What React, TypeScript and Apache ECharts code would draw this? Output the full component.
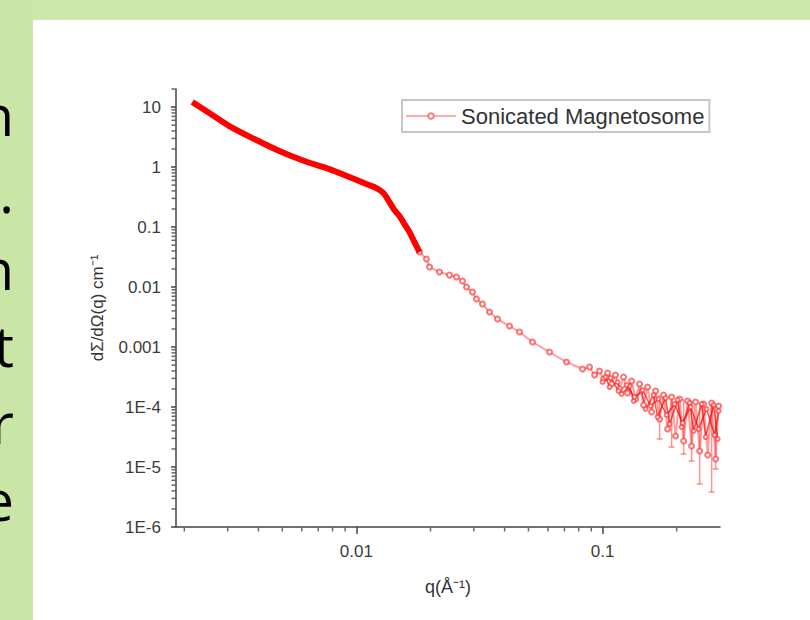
import React, { useEffect, useRef } from "react";
import * as echarts from "echarts";

// ---- data ----
const seriesName = "Sonicated Magnetosome";

// dense low-q part
const qDense = [0.002154, 0.002526, 0.003046, 0.003849, 0.004864, 0.006145, 0.007767, 0.009815, 0.01098, 0.01206, 0.01288, 0.01362, 0.01427, 0.01496, 0.01567, 0.01642, 0.01721, 0.01804];
const iDense = [12.11, 7.94, 4.82, 2.93, 1.85, 1.26, 0.926, 0.631, 0.521, 0.447, 0.369, 0.261, 0.192, 0.153, 0.112, 0.0826, 0.0562, 0.0383];

// sparse high-q part (noisy)
const qSparse = [0.01804, 0.01926, 0.01981, 0.02175, 0.02388, 0.0255, 0.02698, 0.02801, 0.02962, 0.03074, 0.03252, 0.03473, 0.03743, 0.04188, 0.04598, 0.05193, 0.0609, 0.0714, 0.08291, 0.08855, 0.09279, 0.09723, 0.101, 0.1048, 0.1088, 0.1129, 0.1173, 0.1217, 0.1264, 0.1312, 0.1362, 0.1414, 0.1468, 0.1524, 0.1582, 0.1643, 0.1705, 0.177, 0.1838, 0.1908, 0.1981, 0.2056, 0.2135, 0.2216, 0.23, 0.2388, 0.248, 0.2574, 0.2673, 0.2774, 0.288, 0.2962];
const iSparse = [0.0383, 0.0293, 0.0215, 0.0178, 0.0158, 0.0147, 0.0126, 0.01, 0.00826, 0.00631, 0.00521, 0.00383, 0.00293, 0.00224, 0.00178, 0.00121, 8.26e-4, 5.62e-4, 4.3e-4, 4.64e-4, 3.41e-4, 3.98e-4, 2.93e-4, 3.69e-4, 2.42e-4, 3.41e-4, 2.0e-4, 3.16e-4, 1.71e-4, 2.71e-4, 1.36e-4, 2.42e-4, 1.08e-4, 2.15e-4, 8.26e-5, 1.85e-4, 6.31e-5, 1.58e-4, 4.3e-5, 1.47e-4, 3.29e-5, 1.36e-4, 2.71e-5, 1.26e-4, 2.24e-5, 1.21e-4, 1.85e-5, 1.12e-4, 1.58e-5, 1.17e-4, 1.36e-5, 1.04e-4];

// second and third overlapping traces at high q
const qSparse2 = [0.1028, 0.1068, 0.1151, 0.1195, 0.1288, 0.1337, 0.144, 0.1496, 0.1612, 0.1674, 0.1803, 0.1873, 0.2018, 0.2095, 0.2258, 0.2344, 0.2526, 0.2623, 0.2826, 0.2934];
const iSparse2 = [3.16e-4, 2.15e-4, 2.61e-4, 1.65e-4, 2.24e-4, 1.26e-4, 1.85e-4, 9.26e-5, 1.58e-4, 6.81e-5, 1.41e-4, 5.21e-5, 1.31e-4, 4.64e-5, 1.17e-4, 3.98e-5, 1.12e-4, 3.16e-5, 1.08e-4, 2.93e-5];
const qSparse3 = [0.1, 0.1078, 0.1161, 0.1252, 0.1349, 0.1454, 0.1567, 0.1689, 0.182, 0.1962, 0.2114, 0.2279, 0.2455, 0.2647, 0.2853, 0.2962];
const iSparse3 = [2.61e-4, 3.04e-4, 1.85e-4, 2.33e-4, 1.47e-4, 1.92e-4, 1.04e-4, 1.36e-4, 7.36e-5, 1.12e-4, 5.41e-5, 1.0e-4, 4.3e-5, 9.26e-5, 3.41e-5, 8.58e-5];

// error bars
const errQ = [0.1705, 0.1908, 0.2135, 0.23, 0.248, 0.2774, 0.288];
const errLow = [2.93e-5, 2.15e-5, 1.65e-5, 1.26e-5, 5.21e-6, 3.83e-6, 9.26e-6];
const errHigh = [1.58e-4, 1.47e-4, 1.36e-4, 1.26e-4, 1.12e-4, 1.17e-4, 1.04e-4];

// axes
const xMin = 0.00185;
const xMax = 0.3;
const yMin = 1e-6;
const yMax = 20;
const xTickValues = [0.01, 0.1];
const xTickLabels = ["0.01", "0.1"];
const yTickValues = [1e-6, 1e-5, 1e-4, 0.001, 0.01, 0.1, 1, 10];
const yTickLabels = ["1E-6", "1E-5", "1E-4", "0.001", "0.01", "0.1", "1", "10"];
const xMinorTicks = [0.002, 0.003, 0.004, 0.005, 0.006, 0.007, 0.008, 0.009, 0.02, 0.03, 0.04, 0.05, 0.06, 0.07, 0.08, 0.09, 0.2];
const yMinorMantissas = [2, 3, 4, 5, 6, 7, 8, 9];
const yMinorDecades = [1e-6, 1e-5, 1e-4, 0.001, 0.01, 0.1, 1, 10];

// slide text fragments at the left edge
const sideLetters = ["n", ".", "n", "t", "r", "e"];

function lookup(values: number[], labels: string[], v: number): string {
  for (let i = 0; i < values.length; i++) {
    if (Math.abs(v - values[i]) / values[i] < 1e-6) return labels[i];
  }
  return "";
}

export default function App() {
  const ref = useRef<HTMLDivElement>(null);
  useEffect(() => {
    if (!ref.current) return;
    const chart = echarts.init(ref.current, undefined, { renderer: "svg" });

    const yMinor: number[] = [];
    yMinorDecades.forEach((d) => yMinorMantissas.forEach((m) => {
      const v = d * m;
      if (v <= yMax) yMinor.push(v);
    }));

    const axisColor = "#444";
    const labelColor = "#3c3c3c";
    const font = "'Liberation Sans', Arial, sans-serif";
    const pink = "rgba(255,40,40,0.45)";
    const red = "rgba(255,0,0,0.7)";

    const noisy = (qs: number[], is: number[], color: string, width: number, size: number, z: number) => ({
      name: seriesName,
      type: "line",
      data: qs.map((q, i) => [q, is[i]]),
      symbol: "emptyCircle",
      symbolSize: size,
      showSymbol: true,
      lineStyle: { color, width },
      itemStyle: { color: "rgba(255,40,40,0.65)", borderWidth: 1.2 },
      z,
    });

    const option: any = {
      animation: false,
      backgroundColor: "#ffffff",
      graphic: [
        { type: "rect", left: 0, top: 0, shape: { width: 810, height: 20 }, style: { fill: "#cde8ab" }, silent: true },
        { type: "rect", left: 0, top: 0, shape: { width: 33, height: 620 }, style: { fill: "#cae6a6" }, silent: true },
        ...sideLetters.map((ch, i) => ({
          type: "text",
          x: 14,
          y: 114 + i * 77,
          silent: true,
          style: {
            text: ch,
            fill: "#000",
            font: "56px 'Open Sans', sans-serif",
            textAlign: "right",
            textVerticalAlign: "middle",
          },
        })),
      ],
      grid: { left: 176, right: 90, top: 89, bottom: 93, containLabel: false },
      legend: {
        left: 402,
        top: 100,
        padding: [5, 5, 5, 3],
        borderColor: "#c6c6c6",
        borderWidth: 2,
        itemWidth: 50,
        itemHeight: 7,
        selectedMode: false,
        textStyle: { fontSize: 22, color: "#333", fontFamily: font },
        data: [
          {
            name: seriesName,
            itemStyle: { color: "rgba(255,90,90,0.8)", borderColor: "rgba(255,90,90,0.8)", borderWidth: 1.3 },
            lineStyle: { color: "rgba(255,90,90,0.5)", width: 2 },
          },
        ],
      },
      xAxis: {
        type: "log",
        logBase: 10,
        min: xMin,
        max: xMax,
        name: "q(Å⁻¹)",
        nameLocation: "middle",
        nameGap: 51,
        nameTextStyle: { fontSize: 18, color: "#333", fontFamily: font },
        axisLine: { lineStyle: { color: axisColor, width: 1.5 } },
        axisTick: { show: true, inside: false, length: 7, lineStyle: { color: axisColor, width: 1.5 } },
        axisLabel: {
          fontSize: 17,
          color: labelColor,
          fontFamily: font,
          margin: 16,
          showMinLabel: false,
          showMaxLabel: false,
          formatter: (v: number) => lookup(xTickValues, xTickLabels, v),
        },
        splitLine: { show: false },
      },
      yAxis: {
        type: "log",
        logBase: 10,
        min: yMin,
        max: yMax,
        name: "dΣ/dΩ(q) cm⁻¹",
        nameLocation: "middle",
        nameGap: 70,
        nameTextStyle: { fontSize: 17, color: "#333", fontFamily: font },
        axisLine: { lineStyle: { color: axisColor, width: 1.5 } },
        axisTick: { show: true, inside: false, length: 5, lineStyle: { color: axisColor, width: 1.5 } },
        axisLabel: {
          fontSize: 17,
          color: labelColor,
          fontFamily: font,
          margin: 15,
          showMaxLabel: false,
          formatter: (v: number) => lookup(yTickValues, yTickLabels, v),
        },
        splitLine: { show: false },
      },
      series: [
        noisy(qSparse, iSparse, pink, 2, 5, 3),
        noisy(qSparse2, iSparse2, red, 1.5, 4, 3),
        noisy(qSparse3, iSparse3, red, 1.5, 4, 3),
        {
          name: seriesName,
          type: "line",
          data: qDense.map((q, i) => [q, iDense[i]]),
          symbol: "none",
          smooth: 0.3,
          lineStyle: { color: "#ff0000", width: 6 },
          itemStyle: { color: "#ff0000" },
          z: 4,
        },
        {
          name: "errorbars",
          type: "custom",
          data: errQ.map((q, i) => [q, errLow[i], errHigh[i]]),
          renderItem: (params: any, api: any) => {
            const x = api.value(0);
            const p1 = api.coord([x, api.value(1)]);
            const p2 = api.coord([x, api.value(2)]);
            return {
              type: "group",
              children: [
                { type: "line", shape: { x1: p1[0], y1: p1[1], x2: p2[0], y2: p2[1] }, style: { stroke: "rgba(255,40,40,0.5)", lineWidth: 1.5 } },
                { type: "line", shape: { x1: p1[0] - 3, y1: p1[1], x2: p1[0] + 3, y2: p1[1] }, style: { stroke: "rgba(255,40,40,0.5)", lineWidth: 1.5 } },
              ],
            };
          },
          z: 2,
        },
        {
          name: "xMinor",
          type: "scatter",
          data: xMinorTicks.map((q) => [q, yMin]),
          symbol: "rect",
          symbolSize: [1.5, 4],
          symbolOffset: [0, 2.5],
          itemStyle: { color: axisColor },
          clip: false,
          silent: true,
          z: 5,
        },
        {
          name: "yMinor",
          type: "scatter",
          data: yMinor.map((v) => [xMin, v]),
          symbol: "rect",
          symbolSize: [4, 1.5],
          symbolOffset: [-2.5, 0],
          itemStyle: { color: axisColor },
          clip: false,
          silent: true,
          z: 5,
        },
      ],
    };
    chart.setOption(option);
    return () => chart.dispose();
  }, []);
  return (
    <div
      ref={ref}
      style={{ position: "absolute", left: 0, top: 0, width: 810, height: 620 }}
    />
  );
}
